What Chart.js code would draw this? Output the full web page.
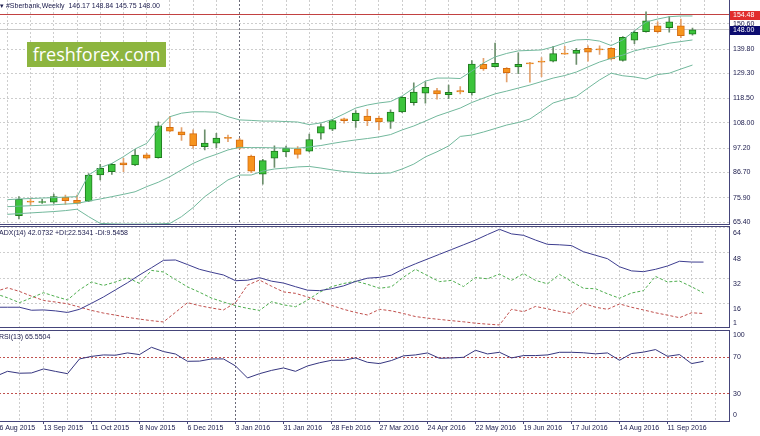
<!DOCTYPE html>
<html>
<head>
<meta charset="utf-8">
<script src="https://cdn.jsdelivr.net/npm/chart.js@4.4.1/dist/chart.umd.min.js"></script>
<style>
  html, body { margin: 0; padding: 0; background: #fff; width: 760px; height: 436px; overflow: hidden; }
  canvas { position: absolute; left: -5px; }
  #cMain { top: 0; }
  #cAdx { top: 226px; }
  #cRsi { top: 330px; }
  .cap { position: absolute; font: 7px 'Liberation Sans', Arial, sans-serif; color: #202050; white-space: pre; z-index: 2; }
  .logo { position: absolute; left: 27px; top: 42px; width: 139px; height: 25px; background: #8db53f; color: #fff;
          font: 18px 'Open Sans', sans-serif; line-height: 25px; text-align: center; z-index: 2; }
</style>
</head>
<body>
<canvas id="cMain" width="765" height="225"></canvas>
<canvas id="cAdx" width="765" height="102"></canvas>
<canvas id="cRsi" width="765" height="106"></canvas>
<div class="logo">freshforex.com</div>
<div class="cap" id="head" style="left:0;top:2px"></div>
<div class="cap" style="left:-1px;top:229px">ADX(14) 42.0732 +DI:22.5341 -DI:9.5458</div>
<div class="cap" style="left:-1px;top:333px">RSI(13) 65.5504</div>
<script>
// weekly bars, index 0 = 16 Aug 2015 ... index 59 = 2 Oct 2016
const tickLabels = ['16 Aug 2015', '13 Sep 2015', '11 Oct 2015', '8 Nov 2015', '6 Dec 2015', '3 Jan 2016', '31 Jan 2016',
  '28 Feb 2016', '27 Mar 2016', '24 Apr 2016', '22 May 2016', '19 Jun 2016', '17 Jul 2016', '14 Aug 2016', '11 Sep 2016'];

const openP = [null, 68.1, 74.4, 73.8, 73.9, 76.0, 74.7, 74.4, 85.6, 87.0, 90.9, 89.9, 94.3, 93.1, 106.1, 104.2, 103.4, 97.8, 99.3, 101.7,
  100.7, 93.8, 86.0, 92.8, 95.5, 96.9, 95.9, 103.6, 105.3, 109.8, 109.0, 111.0, 110.1, 108.7, 112.7, 116.7, 120.8, 121.9, 120.2, 121.9,
  121.0, 133.2, 132.2, 131.5, 132.1, 133.7, 134.6, 134.6, 137.9, 137.9, 140.1, 139.7, 140.1, 134.9, 143.6, 147.3, 149.8, 149.0, 149.8, 146.17];
const highP = [null, 76.3, 75.6, 75.2, 77.4, 77.0, 77.0, 86.2, 90.2, 90.6, 92.8, 96.7, 94.9, 108.5, 110.9, 106.0, 105.0, 105.0, 103.5, 102.8,
  101.4, 94.2, 92.4, 98.2, 98.0, 97.8, 103.2, 107.6, 109.6, 110.1, 113.3, 113.9, 111.0, 113.6, 119.3, 125.3, 125.7, 122.9, 124.3, 123.6,
  134.8, 135.8, 142.3, 131.8, 138.2, 134.1, 136.1, 141.0, 141.0, 140.1, 141.2, 141.2, 140.4, 145.1, 147.6, 155.8, 151.5, 153.7, 152.7, 148.84];
const lowP = [null, 66.7, 72.4, 73.4, 73.4, 73.0, 73.2, 74.1, 83.5, 85.9, 87.0, 89.6, 92.4, 92.8, 104.2, 100.5, 97.1, 96.4, 97.4, 100.0,
  96.7, 86.6, 81.7, 88.9, 93.5, 92.8, 95.5, 101.0, 104.7, 107.9, 106.1, 106.8, 105.0, 105.7, 112.4, 115.7, 116.5, 118.2, 118.4, 120.5,
  120.0, 130.6, 132.0, 125.7, 129.2, 125.5, 127.9, 134.3, 137.5, 133.2, 134.6, 137.5, 135.1, 134.6, 142.1, 147.0, 146.7, 147.0, 144.7, 145.75];
const closeP = [null, 75.2, 73.9, 74.0, 76.3, 74.6, 73.4, 85.6, 88.5, 90.2, 89.9, 94.2, 92.9, 106.8, 104.5, 102.9, 98.2, 99.3, 101.5, 101.4,
  97.1, 87.3, 91.8, 95.9, 97.2, 94.5, 100.9, 106.4, 109.0, 109.0, 112.2, 109.0, 108.4, 112.7, 119.0, 121.3, 123.3, 120.5, 121.2, 121.3,
  133.3, 131.2, 133.6, 129.6, 133.2, 133.4, 134.1, 137.8, 137.6, 139.2, 138.4, 139.4, 135.5, 144.8, 147.0, 151.9, 147.3, 151.5, 145.5, 148.00];

const bbUpper = [75.0, 75.3, 75.5, 75.7, 75.9, 76.1, 76.3, 85.6, 88.8, 90.6, 93.5, 96.8, 99.2, 105.7, 110.7, 112.2, 112.8, 112.8, 112.6, 110.7,
  109.3, 109.1, 108.8, 108.8, 108.6, 108.4, 107.3, 108.0, 109.5, 111.9, 114.4, 115.7, 116.6, 117.2, 119.6, 123.0, 126.0, 127.3, 127.3, 127.1,
  130.3, 133.8, 136.4, 137.9, 139.0, 139.2, 139.4, 140.7, 142.4, 143.7, 143.9, 143.2, 141.3, 143.7, 147.6, 151.4, 152.7, 153.7, 154.0, 154.0];
const bbMiddle = [72.0, 72.2, 72.4, 72.6, 72.8, 73.1, 73.4, 74.4, 75.3, 76.3, 77.3, 78.4, 80.6, 82.5, 84.9, 87.8, 90.6, 92.8, 94.5, 96.4,
  97.5, 97.4, 97.4, 97.3, 97.2, 97.1, 97.7, 98.3, 99.2, 100.0, 100.7, 101.3, 102.0, 103.0, 105.0, 106.7, 108.8, 111.0, 112.7, 114.4,
  116.8, 118.7, 120.5, 121.7, 123.0, 124.3, 125.8, 127.3, 128.4, 129.9, 132.1, 134.2, 135.8, 137.2, 139.0, 140.2, 141.1, 142.3, 143.0, 143.7];
const bbLower = [68.7, 69.0, 69.3, 69.6, 69.9, 70.3, 70.9, 67.7, 64.8, 64.6, 64.5, 64.5, 64.5, 64.6, 64.8, 67.7, 71.6, 76.3, 79.9, 83.5,
  85.6, 85.6, 87.3, 88.2, 88.6, 89.1, 89.3, 88.6, 87.8, 87.1, 86.7, 86.3, 86.3, 86.5, 88.2, 90.3, 93.4, 95.6, 98.1, 102.2,
  102.8, 104.1, 105.6, 107.1, 108.2, 109.7, 113.1, 116.6, 118.1, 119.4, 123.0, 126.5, 129.4, 128.3, 127.8, 126.9, 128.8, 129.4, 131.2, 132.9];

const adx = [13.5, 13.5, 13.5, 11.6, 11.8, 11.2, 10.2, 12.2, 16.0, 20.0, 24.5, 29.0, 33.9, 38.5, 43.2, 43.4, 40.5, 37.5, 35.6, 33.9,
  30.3, 30.6, 32.2, 30.0, 28.8, 26.5, 24.3, 24.0, 25.2, 27.0, 29.8, 31.9, 32.4, 33.8, 37.8, 41.0, 44.0, 47.0, 50.0, 53.0,
  56.0, 59.5, 62.8, 59.9, 59.0, 56.0, 53.3, 53.0, 52.5, 48.6, 46.4, 44.2, 39.1, 36.5, 36.0, 37.5, 39.6, 42.6, 42.1, 42.07];
const plusDI = [22.0, 19.5, 16.4, 19.5, 22.7, 20.3, 18.1, 24.5, 29.5, 27.3, 29.5, 32.2, 28.6, 36.8, 35.8, 31.0, 26.4, 23.0, 19.3, 16.8,
  14.5, 12.8, 11.5, 17.0, 15.0, 13.8, 18.0, 23.0, 26.5, 28.5, 30.0, 28.0, 25.5, 26.5, 32.5, 37.5, 33.5, 29.7, 30.5, 26.6,
  32.3, 31.5, 34.5, 30.5, 34.8, 30.5, 28.3, 34.3, 29.8, 25.5, 25.2, 22.0, 19.2, 22.5, 24.0, 33.0, 29.5, 30.1, 26.5, 22.53];
const minusDI = [23.5, 25.8, 23.5, 20.5, 17.8, 16.8, 15.7, 13.6, 11.5, 9.8, 8.5, 7.1, 6.0, 5.0, 4.2, 10.3, 16.4, 14.5, 13.0, 11.8,
  16.4, 27.5, 30.7, 26.8, 23.2, 22.3, 20.0, 17.5, 14.7, 12.2, 10.2, 8.6, 12.2, 11.2, 9.5, 7.6, 6.6, 5.8, 5.0, 4.3,
  3.4, 2.8, 2.3, 12.2, 10.7, 14.0, 12.5, 10.8, 9.5, 16.0, 13.5, 12.2, 15.6, 13.5, 11.8, 10.0, 8.5, 6.9, 10.0, 9.55];
const rsi = [49.0, 54.6, 52.5, 52.8, 57.2, 54.5, 52.0, 68.2, 71.0, 72.6, 72.3, 74.8, 73.0, 81.0, 76.3, 73.6, 65.6, 65.8, 68.2, 68.2,
  60.5, 47.3, 52.0, 55.6, 58.3, 54.6, 60.5, 64.0, 66.7, 66.7, 69.3, 64.5, 63.1, 66.5, 71.6, 72.6, 74.8, 68.9, 69.3, 70.0,
  77.7, 73.7, 75.5, 69.3, 71.9, 71.9, 72.6, 75.5, 75.5, 75.0, 73.8, 74.8, 66.7, 74.1, 75.7, 78.5, 71.1, 73.0, 63.1, 65.55];

const priceTicks = [65.4, 75.9, 86.7, 97.2, 108.0, 118.5, 129.3, 139.8, 150.6];
const adxTicks = [1, 16, 32, 48, 64];
const rsiTicks = [0, 30, 70, 100];
const rsiLevels = [30, 70];
const resistance = 154.48;
const separatorBar = 5 * 4; // 3 Jan 2016

const axisColor = '#45457a';
const gridColor = '#cdcdcd';
const textColor = '#202050';
const bandColor = '#72b89c';

Chart.defaults.font.family = "'Liberation Sans', Arial, sans-serif";
Chart.defaults.font.size = 7;
Chart.defaults.color = textColor;

const last = closeP.length - 1;
document.getElementById('head').textContent = '\u25BE #Sberbank,Weekly  ' +
  [openP[last], highP[last], lowP[last], closeP[last]].map(v => v.toFixed(2)).join(' ');

const pts = arr => arr.map((v, i) => ({x: i, y: v}));

// candles as floating bars
const bodies = [], wicks = [], bodyFill = [], bodyEdge = [], wickCol = [];
openP.forEach((o, i) => {
  if (o == null) return;
  const up = closeP[i] >= o;
  bodies.push({x: i, y: [o, closeP[i]]});
  wicks.push({x: i, y: [lowP[i], highP[i]]});
  bodyFill.push(up ? '#3cc43c' : '#f7941d');
  bodyEdge.push(up ? '#1f7a1f' : '#d46c10');
  wickCol.push(up ? '#6c8f6c' : '#e3a26e');
});

function timeAxis(withLabels) {
  return {
    type: 'linear', min: 0, max: 61.125,
    afterBuildTicks: s => { s.ticks = []; for (let v = 0; v <= 60; v += 2) s.ticks.push({value: v}); },
    afterFit: s => { s.height = withLabels ? 15 : 0; },
    grid: {display: false, drawTicks: true, tickLength: 3},
    border: {display: false},
    ticks: {
      display: withLabels, autoSkip: false, maxRotation: 0, align: 'start', padding: 0,
      callback: v => (v % 4 === 0 && tickLabels[v / 4]) || ''
    }
  };
}

function valueAxis(min, max, ticks) {
  return {
    position: 'right', min, max,
    afterBuildTicks: s => { s.ticks = ticks.map(v => ({value: v})); },
    afterFit: s => { s.width = 31; },
    ticks: {display: false},
    grid: {display: false},
    border: {color: axisColor}
  };
}

const framePlugin = {
  id: 'frame',
  beforeDatasetsDraw(chart, args, o) {
    const {ctx, chartArea: a} = chart;
    const y = chart.scales.y, x = chart.scales.x;
    ctx.save();
    ctx.lineWidth = 1;
    // dotted grid from the scales' ticks
    ctx.strokeStyle = gridColor;
    ctx.setLineDash([2, 2]);
    ctx.beginPath();
    x.ticks.forEach(t => {
      if (t.value === separatorBar) return;
      const px = Math.floor(x.getPixelForValue(t.value)) + 0.5;
      if (px < a.left || px > a.right) return;
      ctx.moveTo(px, Math.floor(a.top)); ctx.lineTo(px, a.bottom);
    });
    if (o.hgrid) {
      y.ticks.forEach(t => {
        const py = Math.floor(y.getPixelForValue(t.value)) + 0.5;
        if (py <= a.top + 1 || py >= a.bottom - 1) return;
        ctx.moveTo(0, py); ctx.lineTo(a.right, py);
      });
    }
    ctx.stroke();
    (o.hlines || []).forEach(h => {
      const py = Math.floor(y.getPixelForValue(h.v)) + 0.5;
      ctx.strokeStyle = h.color;
      ctx.setLineDash(h.dash || []);
      ctx.beginPath(); ctx.moveTo(0, py); ctx.lineTo(a.right, py); ctx.stroke();
    });
    const vx = Math.floor(x.getPixelForValue(separatorBar)) + 0.5;
    ctx.strokeStyle = '#6a6a78';
    ctx.setLineDash([2, 2]);
    ctx.beginPath(); ctx.moveTo(vx, Math.floor(a.top)); ctx.lineTo(vx, a.bottom); ctx.stroke();
    ctx.restore();
  },
  afterDraw(chart, args, o) {
    const {ctx, chartArea: a} = chart;
    const y = chart.scales.y, x = chart.scales.x;
    ctx.save();
    ctx.strokeStyle = axisColor;
    ctx.lineWidth = 1;
    ctx.beginPath();
    if (o.top) { ctx.moveTo(0, Math.floor(a.top) + 0.5); ctx.lineTo(a.right, Math.floor(a.top) + 0.5); }
    if (o.bottom) { ctx.moveTo(0, Math.floor(a.bottom) + 0.5); ctx.lineTo(a.right, Math.floor(a.bottom) + 0.5); }
    if (o.tickMarks) {
      x.ticks.forEach(t => {
        if (t.value % 4 !== 0 || !tickLabels[t.value / 4]) return;
        const px = Math.floor(x.getPixelForValue(t.value)) + 0.5;
        ctx.moveTo(px, a.bottom); ctx.lineTo(px, a.bottom + 3);
      });
    }
    ctx.stroke();
    // right-hand value labels
    ctx.font = "7px 'Liberation Sans', Arial, sans-serif";
    ctx.textBaseline = 'middle';
    ctx.fillStyle = textColor;
    y.ticks.forEach(t => {
      let py = y.getPixelForValue(t.value) + (o.shift || 0);
      py = Math.min(Math.max(py, a.top + o.edge), a.bottom - o.edge);
      ctx.fillText(o.fmt(t.value), a.right + 4, py);
    });
    (o.boxes || []).forEach(b => {
      const py = Math.round(y.getPixelForValue(b.v));
      ctx.fillStyle = b.bg;
      ctx.fillRect(a.right + 1, py - 4, chart.width - a.right, 9);
      ctx.fillStyle = '#fff';
      ctx.fillText(b.v.toFixed(2), a.right + 4, py + 0.5);
    });
    ctx.restore();
  }
};

const baseOpts = {
  responsive: false,
  animation: false,
  events: [],
  plugins: {legend: {display: false}, tooltip: {enabled: false}}
};

function lineSet(arr, color, dash, order) {
  return {type: 'line', data: pts(arr), borderColor: color, borderWidth: 1, borderDash: dash || [],
    pointRadius: 0, tension: 0, order: order || 0};
}

new Chart(document.getElementById('cMain'), {
  type: 'bar',
  data: {
    datasets: [
      lineSet(bbUpper, bandColor), lineSet(bbMiddle, bandColor), lineSet(bbLower, bandColor),
      {data: bodies, backgroundColor: bodyFill, borderColor: bodyEdge, borderWidth: 1, borderSkipped: false,
        barThickness: 7, minBarLength: 1, grouped: false, order: 1},
      {data: wicks, backgroundColor: wickCol, borderWidth: 0, barThickness: 1, grouped: false, order: 2}
    ]
  },
  options: Object.assign({}, baseOpts, {
    layout: {padding: {left: 0.5, right: 0, top: 0, bottom: 1}},
    plugins: Object.assign({}, baseOpts.plugins, {
      frame: {
        bottom: true, hgrid: true, edge: 2, fmt: v => v.toFixed(2),
        hlines: [{v: resistance, color: '#c24141'}, {v: closeP[last], color: '#c8c8c8'}],
        boxes: [{v: resistance, bg: '#e12d2d'}, {v: closeP[last], bg: '#0c0c70'}]
      }
    }),
    scales: {x: timeAxis(false), y: valueAxis(64.54, 160.88, priceTicks)}
  }),
  plugins: [framePlugin]
});

new Chart(document.getElementById('cAdx'), {
  type: 'line',
  data: {
    datasets: [
      lineSet(adx, '#3d3d8f'),
      lineSet(plusDI, '#4fae4f', [3, 2]),
      lineSet(minusDI, '#c0504d', [3, 2])
    ]
  },
  options: Object.assign({}, baseOpts, {
    layout: {padding: {left: 0.5, right: 0, top: 0, bottom: 1}},
    plugins: Object.assign({}, baseOpts.plugins, {
      frame: {top: true, bottom: true, hgrid: true, shift: 6, edge: 4, fmt: v => String(v)}
    }),
    scales: {x: timeAxis(false), y: valueAxis(1, 64.9, adxTicks)}
  }),
  plugins: [framePlugin]
});

new Chart(document.getElementById('cRsi'), {
  type: 'line',
  data: {datasets: [lineSet(rsi, '#35357f')]},
  options: Object.assign({}, baseOpts, {
    layout: {padding: {left: 0.5, right: 0, top: 0, bottom: 0}},
    plugins: Object.assign({}, baseOpts.plugins, {
      frame: {
        top: true, bottom: true, tickMarks: true, edge: 5.5, fmt: v => String(v),
        hlines: rsiLevels.map(v => ({v, color: '#c0504d', dash: [2, 2]}))
      }
    }),
    scales: {x: timeAxis(true), y: valueAxis(0, 100, rsiTicks)}
  }),
  plugins: [framePlugin]
});
</script>
</body>
</html>
